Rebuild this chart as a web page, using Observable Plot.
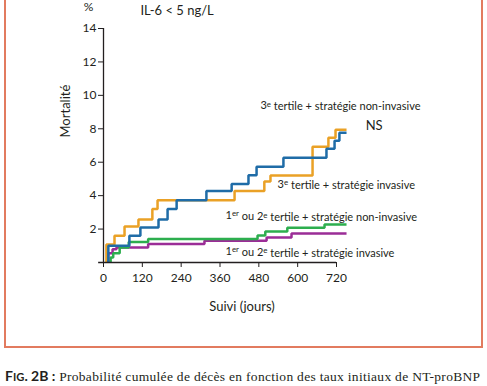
<!DOCTYPE html>
<html>
<head>
<meta charset="utf-8">
<script src="https://cdn.jsdelivr.net/npm/d3@7"></script>
<script src="https://cdn.jsdelivr.net/npm/@observablehq/plot@0.6"></script>
<style>
  html, body { margin: 0; padding: 0; background: #fff; }
  body { width: 487px; height: 386px; position: relative; overflow: hidden; }
  #frame { position: absolute; left: 4px; top: -10px; width: 479px; height: 358px;
           border: 2.5px solid #E27B5F; box-sizing: border-box; }
  #chart { position: absolute; left: 0; top: 0; }
  #caption { position: absolute; left: 5px; top: 367px; white-space: nowrap;
             font-family: "Liberation Serif", serif; font-size: 13.5px; color: #231f20; letter-spacing: 0.3px; }
  #caption b { font-family: "Lato", sans-serif; font-weight: 700; letter-spacing: 0; font-size: 14px; }
</style>
</head>
<body>
<div id="frame"></div>
<div id="chart"></div>
<div id="caption"><b>F<span style="font-size:0.8em">IG</span>. 2B :</b> Probabilité cumulée de décès en fonction des taux initiaux de NT-proBNP</div>
<script>
// ---- data ----
const xTicks = [0, 120, 240, 360, 480, 600, 720];
const yTicks = [2, 4, 6, 8, 10, 12, 14];

const seriesNames = ["T12 invasive", "T12 non-invasive", "T3 non-invasive", "T3 invasive"];
const seriesColors = ["#9B2D97", "#2DAE4E", "#EAA126", "#1F6CA7"];

const purpleDays = [15, 15, 28, 40, 138, 312, 504, 581, 751];
const purpleVals = [0, 0.55, 0.8, 0.9, 1.1, 1.3, 1.5, 1.73, 1.73];

const greenDays = [22, 22, 30, 50, 78, 138, 476, 500, 568, 683, 751];
const greenVals = [0, 0.3, 0.55, 0.9, 1.22, 1.4, 1.62, 1.85, 2.08, 2.27, 2.27];

const orangeDays = [9, 9, 34, 65, 108, 151, 167, 405, 497, 516, 646, 695, 717, 751];
const orangeVals = [0, 1.07, 1.6, 2.15, 2.57, 3.2, 3.73, 4.28, 4.85, 5.2, 6.93, 7.46, 7.94, 7.94];

const blueDays = [15, 15, 80, 114, 170, 198, 226, 318, 396, 448, 473, 556, 689, 714, 729, 751];
const blueVals = [0, 1.0, 1.6, 2.1, 2.57, 3.2, 3.73, 4.28, 4.7, 5.22, 5.73, 6.27, 6.8, 7.28, 7.76, 7.76];

const labelTexts = [
  "3^e tertile + stratégie non-invasive",
  "3^e tertile + stratégie invasive",
  "1^er ou 2^e tertile + stratégie non-invasive",
  "1^er ou 2^e tertile + stratégie invasive"
];
const labelX = [485, 538, 377, 377];
const labelY = [9.37, 4.66, 2.8, 0.66];

const nsText = "NS";
const nsX = 810, nsY = 8.18;
const titleText = "IL-6 < 5 ng/L";
const titleX = 114, titleY = 15.05;
const pctText = "%";
const pctX = -46, pctY = 15.55;
const xLabel = "Suivi (jours)";
const yLabel = "Mortalité";

// ---- build table ----
const seriesData = [
  [purpleDays, purpleVals],
  [greenDays, greenVals],
  [orangeDays, orangeVals],
  [blueDays, blueVals]
];
const rows = seriesNames.flatMap((s, k) => seriesData[k][0].map((d, i) => ({series: s, day: d, value: seriesData[k][1][i]})));
const labels = labelTexts.map((t, i) => ({text: t, x: labelX[i], y: labelY[i]}));

const chart = Plot.plot({
  width: 487,
  height: 350,
  marginLeft: 103,
  marginRight: 151,
  marginTop: 28,
  marginBottom: 88,
  style: {fontFamily: "Lato, sans-serif", fontSize: "12px", color: "#231f20", background: "transparent", overflow: "visible"},
  x: {domain: [0, 720], ticks: xTicks, tickSize: 5, tickPadding: 6, label: null},
  y: {domain: [0, 14], ticks: yTicks, tickSize: 5, tickPadding: 2, label: null},
  color: {domain: seriesNames, range: seriesColors},
  marks: [
    Plot.line(rows, {x: "day", y: "value", z: "series", stroke: "series", curve: "step-after", strokeWidth: 2.5, strokeLinejoin: "miter", strokeLinecap: "butt"}),
    Plot.ruleY([0], {x1: -15, x2: 720, strokeWidth: 1.3}),
    Plot.ruleX([0], {y1: 0, y2: 14, strokeWidth: 1.3}),
    Plot.text(labels, {x: "x", y: "y", text: "text", textAnchor: "start", fontSize: 11}),
    Plot.text([nsText], {x: () => nsX, y: () => nsY, textAnchor: "start", fontSize: 13}),
    Plot.text([titleText], {x: () => titleX, y: () => titleY, textAnchor: "start", fontSize: 13}),
    Plot.text([pctText], {x: () => pctX, y: () => pctY, fontSize: 12, lineAnchor: "top"}),
    Plot.text([yLabel], {frameAnchor: "left", dx: -38, dy: -8, rotate: -90, fontSize: 13}),
    Plot.text([xLabel], {frameAnchor: "bottom", dx: 22, dy: 48, fontSize: 13})
  ]
});

// superscripts: turn "^e" / "^er" into raised tspans
d3.select(chart).selectAll("text").each(function() {
  const t = this.textContent;
  if (!t.includes("^")) return;
  const el = d3.select(this);
  el.text(null);
  const parts = t.split(/\^(\w+)/);
  parts.forEach((p, i) => {
    if (i % 2 === 0) {
      if (p) el.append("tspan").attr("dy", i > 0 ? "0.35em" : null).text(p);
    } else {
      el.append("tspan").attr("dy", "-0.35em").attr("font-size", "0.72em").text(p);
    }
  });
});

document.getElementById("chart").appendChild(chart);
</script>
</body>
</html>
